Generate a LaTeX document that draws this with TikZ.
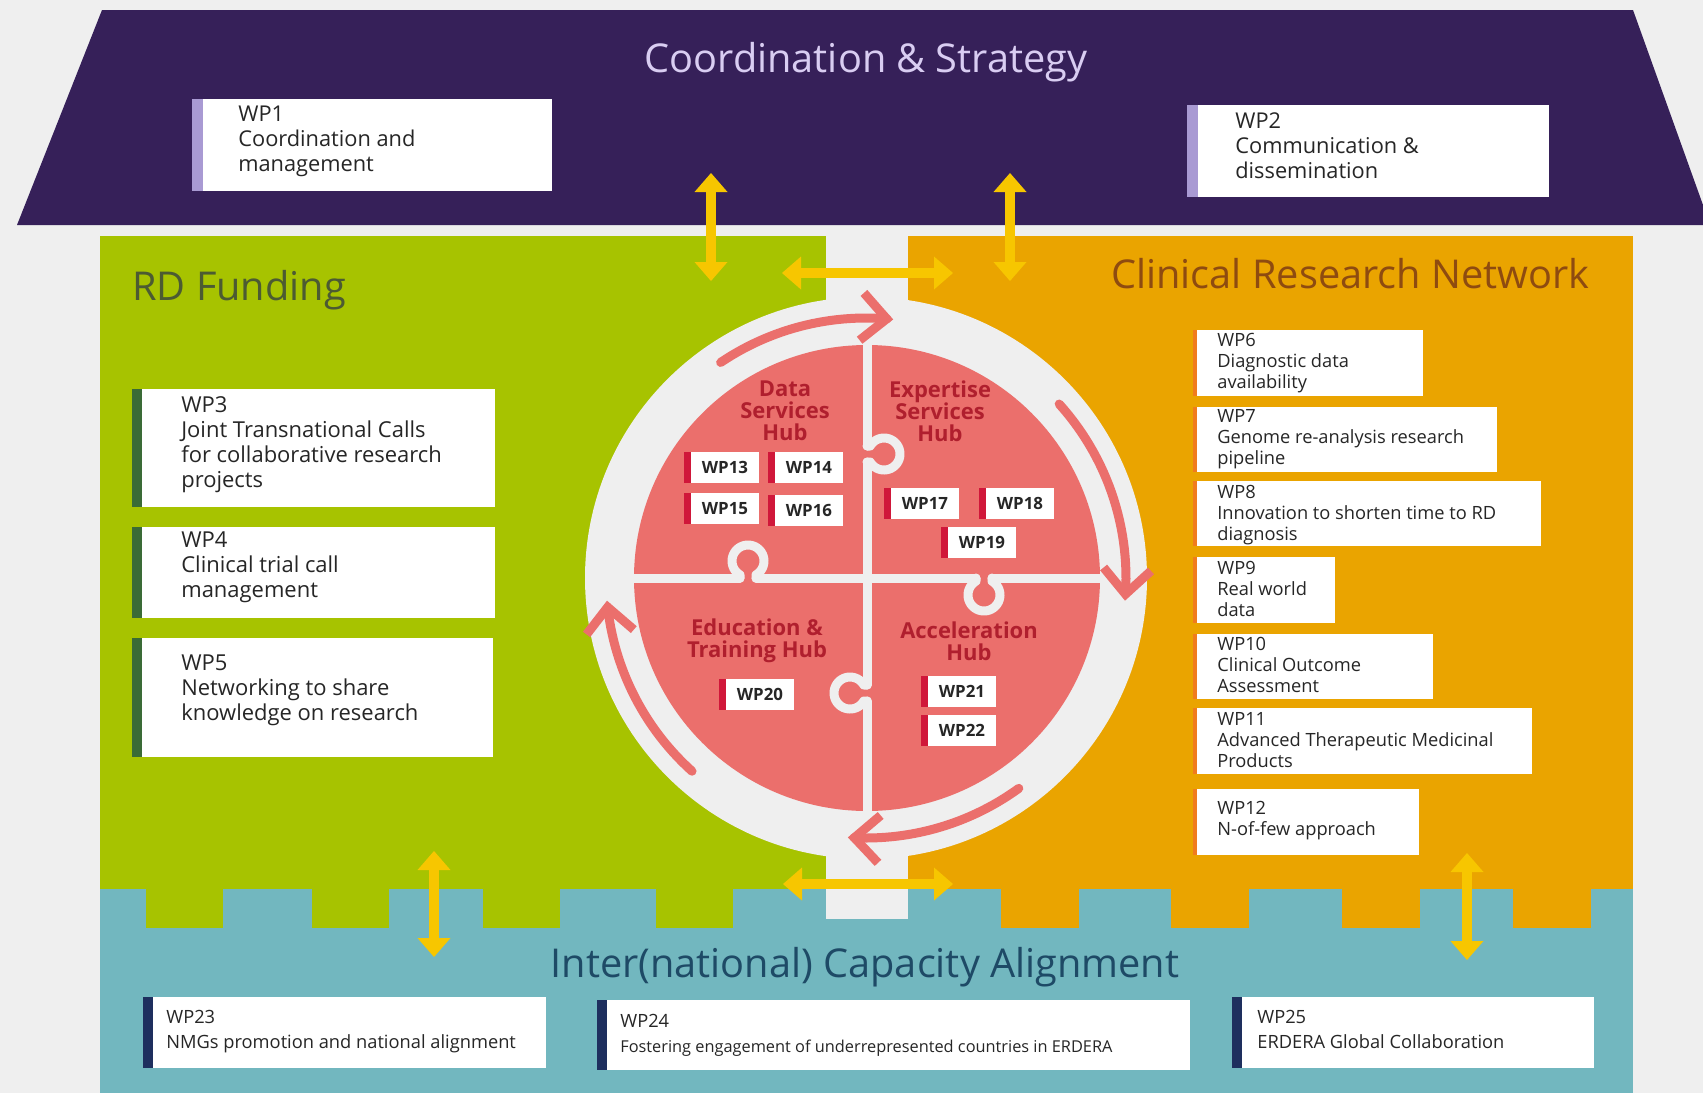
\documentclass[tikz,border=0pt]{standalone}
\usepackage{fontspec}
\setmainfont{Open Sans}
\usetikzlibrary{arrows.meta}
\definecolor{bggray}{HTML}{EFEFEF}
\definecolor{roofpurple}{HTML}{362059}
\definecolor{roofink}{HTML}{D9CDF2}
\definecolor{lavstripe}{HTML}{A99AD3}
\definecolor{fundgreen}{HTML}{A7C300}
\definecolor{fundink}{HTML}{4C5B32}
\definecolor{fundstripe}{HTML}{3A6B36}
\definecolor{crnorange}{HTML}{EAA400}
\definecolor{crnink}{HTML}{8E4B10}
\definecolor{crnstripe}{HTML}{F07C1E}
\definecolor{alignteal}{HTML}{72B7BF}
\definecolor{alignink}{HTML}{1E4A66}
\definecolor{alignstripe}{HTML}{1E2F5E}
\definecolor{linkyellow}{HTML}{F7C600}
\definecolor{hubsalmon}{HTML}{EB6F6C}
\definecolor{hubink}{HTML}{B01F2E}
\definecolor{hubstripe}{HTML}{D0173A}
\definecolor{boxink}{HTML}{262626}
\begin{document}
\begin{tikzpicture}[x=0.02cm,y=-0.02cm,line join=round,line cap=round]
		\tikzset{bigtitle/.style={inner sep=0pt,font=\fontsize{22.6}{26}\selectfont},
			boxtext/.style={anchor=base west,align=left,inner sep=0pt,text=boxink},
			wptop/.style={boxtext,font=\fontsize{12.4}{14.2}\selectfont},
			wpfund/.style={boxtext,font=\fontsize{12.5}{14.2}\selectfont},
			wpcrn/.style={boxtext,font=\fontsize{10.4}{11.9}\selectfont},
			wpalign/.style={boxtext,font=\fontsize{10.4}{14.2}\selectfont},
			hubtitle/.style={anchor=base,align=center,inner sep=0pt,text=hubink,font=\bfseries\fontsize{12.5}{12.5}\selectfont},
			hubwp/.style={inner sep=0pt,text=boxink,font=\bfseries\fontsize{9.6}{11}\selectfont},
			seam/.style={draw=bggray,line width=0.18cm},
			ringarrow/.style={draw=hubsalmon,line width=0.18cm,-{Straight Barb[length=0.5cm,width=0.95cm]}},
			link/.style={draw=linkyellow,line width=0.19cm,>={Triangle[length=0.38cm,width=0.66cm,line width=0pt]},<->}}
		\useasboundingbox (0,0) rectangle (1703,1093);
		\fill[bggray] (0,0) rectangle (1703,1093);
		% roof and the three panels
		\fill[roofpurple] (102,10)--(1633,10)--(1703,205)--(1703,225)--(17,225)--cycle;
		\fill[fundgreen] (100,236) rectangle (826,889);
		\fill[crnorange] (908,236) rectangle (1633,889);
		\fill[alignteal] (100,889) rectangle (1633,1093);
		\foreach \tx in {146,312,483,656}
		\fill[fundgreen] (\tx,880) rectangle ++(77,48);
		\foreach \tx in {1001,1171,1342,1513}
		\fill[crnorange] (\tx,880) rectangle ++(78,48);
		\fill[bggray] (826,230) rectangle (908,919);
		\fill[bggray] (866,578) circle[radius=281];
		% puzzle
		\fill[hubsalmon] (867,578) circle[radius=233];
		\draw[seam] (867,335)--(867,446) (867,462)--(867,685) (867,701)--(867,820);
		\draw[seam] (625,578)--(740,578) (756,578)--(976,578) (992,578)--(1110,578);
		\foreach \kx/\ky/\ka in {748/578/90,867/454/0,984/578/-90,867/693/180}
		\draw[seam,shift={(\kx,\ky)},rotate=\ka] (0,-8)--(3.1,-8)--plot[domain=210:510,samples=40,variable=\t] ({17+16*cos(\t)},{16*sin(\t)})--(3.1,8)--(0,8);
		\foreach \sa/\ea in {124/84,42/-5,-54/-94,-132/-175}
		\draw[ringarrow] plot[domain=\sa:\ea,samples=30,variable=\t] ({866+260*cos(\t)},{578-260*sin(\t)});
		\node[hubtitle] (datahub) at (785,440) {Data\\Services\\Hub};
		\node[hubtitle] (experthub) at (940,441) {Expertise\\Services\\Hub};
		\node[hubtitle] (eduhub) at (757,657) {Education \&\\Training Hub};
		\node[hubtitle] (accelhub) at (969,660) {Acceleration\\Hub};
		\foreach \n/\bx/\by in {13/684/452,14/768/452,15/684/493,16/768/495,17/884/488,18/979/488,19/941/527,20/719/679,21/921/676,22/921/715}{
			\fill[white] (\bx,\by) rectangle ++(75,31);
			\fill[hubstripe] (\bx,\by) rectangle ++(7,31);
			\node[hubwp] (wp\n) at (\bx+41,\by+15.5) {WP\n};
		}
		% work packages (nodes sit on the baseline of their last line)
		\fill[white] (192,99) rectangle (552,191);
		\fill[lavstripe] (192,99) rectangle (203,191);
		\node[wptop] (wp1) at (238,171) {WP1\\Coordination and\\management};
		\fill[white] (1187,105) rectangle (1549,197);
		\fill[lavstripe] (1187,105) rectangle (1198,197);
		\node[wptop] (wp2) at (1235,178) {WP2\\Communication \&\\dissemination};
		\foreach \n/\yt/\yb/\xr/\bl/\txt in {3/389/507/495/487/{Joint Transnational Calls\\for collaborative research\\projects},
			4/527/618/495/597/{Clinical trial call\\management},
			5/638/757/493/720/{Networking to share\\knowledge on research}}{
			\fill[white] (132,\yt) rectangle (\xr,\yb);
			\fill[fundstripe] (132,\yt) rectangle (142,\yb);
			\node[wpfund] (wp\n) at (181,\bl) {WP\n\\\txt};
		}
		\foreach \n/\yt/\yb/\xr/\bl/\txt in {6/330/396/1423/388/{Diagnostic data\\availability},
			7/407/472/1497/464/{Genome re-analysis research\\pipeline},
			8/481/546/1541/540/{Innovation to shorten time to RD\\diagnosis},
			9/557/623/1335/616/{Real world\\data},
			10/634/699/1433/692/{Clinical Outcome\\Assessment},
			11/708/774/1532/767/{Advanced Therapeutic Medicinal\\Products},
			12/789/855/1419/835/{N-of-few approach}}{
			\fill[white] (1193,\yt) rectangle (\xr,\yb);
			\fill[crnstripe] (1193,\yt) rectangle (1197,\yb);
			\node[wpcrn] (wp\n) at (1217,\bl) {WP\n\\\txt};
		}
		\fill[white] (143,997) rectangle (546,1068);
		\fill[alignstripe] (143,997) rectangle (153,1068);
		\node[wpalign] (wp23) at (166,1048) {WP23\\NMGs promotion and national alignment};
		\fill[white] (597,1000) rectangle (1190,1070);
		\fill[alignstripe] (597,1000) rectangle (607,1070);
		\node[wpalign] (wp24) at (620,1052) {WP24\\\fontsize{9.3}{14.2}\selectfont Fostering engagement of underrepresented countries in ERDERA};
		\fill[white] (1232,997) rectangle (1594,1068);
		\fill[alignstripe] (1232,997) rectangle (1242,1068);
		\node[wpalign] (wp25) at (1257,1048) {WP25\\ERDERA Global Collaboration};
		% titles
		\node[bigtitle,text=roofink,anchor=base] (coordtitle) at (866,72) {Coordination \& Strategy};
		\node[bigtitle,text=fundink,anchor=base west] (fundtitle) at (132,300) {RD Funding};
		\node[bigtitle,text=crnink,anchor=base west] (crntitle) at (1111,288) {Clinical Research Network};
		\node[bigtitle,text=alignink,anchor=base] (aligntitle) at (865,977) {Inter(national) Capacity Alignment};
		% links between the panels
		\coordinate (roofa) at (711,173);
		\coordinate (funda) at (711,281);
		\coordinate (roofb) at (1010,173);
		\coordinate (crna) at (1010,281);
		\coordinate (fundb) at (782,273);
		\coordinate (crnb) at (953,273);
		\coordinate (fundc) at (783,884);
		\coordinate (crnc) at (953,884);
		\coordinate (fundd) at (434,851);
		\coordinate (aligna) at (434,957);
		\coordinate (crnd) at (1467,853);
		\coordinate (alignb) at (1467,960);
		\draw[link] (roofa)--(funda);
		\draw[link] (roofb)--(crna);
		\draw[link] (fundb)--(crnb);
		\draw[link] (fundc)--(crnc);
		\draw[link] (fundd)--(aligna);
		\draw[link] (crnd)--(alignb);
	\end{tikzpicture}
\end{document}
